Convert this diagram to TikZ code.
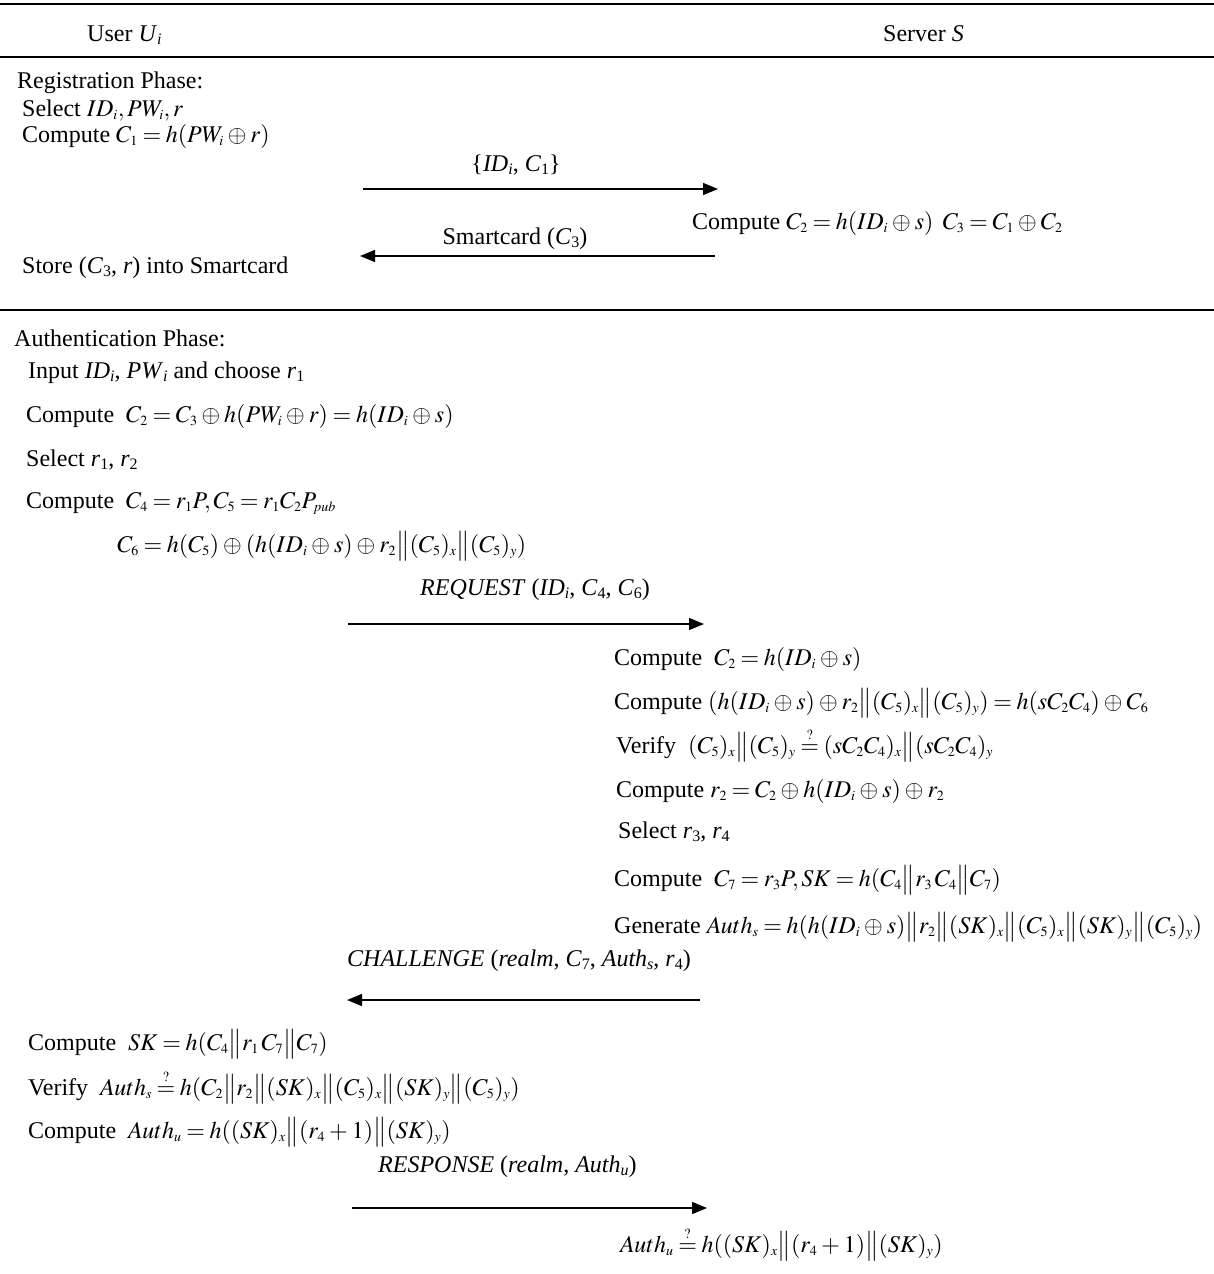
\documentclass[tikz,border=0pt]{standalone}
\usepackage{mathptmx}
\usepackage[no-math]{fontspec}
\setmainfont{Liberation Serif}
\usetikzlibrary{arrows.meta}
\DeclareMathSizes{24}{24}{14}{11}
\medmuskip=3mu plus 1mu minus 2mu
\thickmuskip=3.5mu plus 2mu
\newcommand{\bb}{\big\|}
\newcommand{\qeq}{\mathrel{\stackrel{?}{=}}}
\newcommand{\lsub}[1]{\raisebox{-3.5pt}{\fontsize{16}{16}\selectfont #1}}
\newcommand{\IDi}{\textit{ID}\lsub{\textit{i}}}
\newcommand{\PWi}{\textit{PW}\lsub{\textit{i}}}
\newcommand{\Cn}[1]{\textit{C}\lsub{#1}}
\newcommand{\rn}[1]{\textit{r}\lsub{#1}}
\begin{document}
\begin{tikzpicture}[x=1pt,y=-1pt,
  txt/.style={anchor=base west, inner sep=0pt, font=\fontsize{24}{28}\selectfont},
  ctxt/.style={txt, anchor=base},
  rule/.style={line width=2pt},
  msg/.style={line width=1.3pt, -{Triangle[length=15pt,width=12pt]}}]
\useasboundingbox (0,0) rectangle (1214,1274);
% rules
\draw[rule, line width=2.5pt] (0,4) -- (1214,4);
\draw[rule] (0,57) -- (1214,57);
\draw[rule] (0,310) -- (1214,310);
% header
\node[txt] (user) at (87,41) {User \textit{U}\lsub{\textit{i}}};
\node[txt] (server) at (883,41) {Server \textit{S}};
% registration
\node[txt] (reg) at (17,88) {Registration Phase:};
\node[txt] (r1) at (22,116) {Select $ID_i, PW_i, r$};
\node[txt] (r2) at (22,142) {Compute $C_1 = h(PW_i \oplus r)$};
\node[ctxt] (m1) at (516,171) {\{\IDi, \Cn{1}\}};
\coordinate (m1s) at (363,189); \coordinate (m1e) at (718,189);
\draw[msg] (m1s) -- (m1e);
\node[txt] (s1) at (692,229) {Compute $C_2 = h(ID_i \oplus s)\;\; C_3 = C_1 \oplus C_2$};
\node[ctxt] (m2) at (515,244) {Smartcard (\Cn{3})};
\coordinate (m2s) at (715,256); \coordinate (m2e) at (360,256);
\draw[msg] (m2s) -- (m2e);
\node[txt] (r3) at (22,273) {Store (\Cn{3}, \textit{r}) into Smartcard};
% authentication
\node[txt] (auth) at (14,346) {Authentication Phase:};
\node[txt] (u1) at (28,378) {Input \IDi, \PWi{} and choose \rn{1}};
\node[txt] (u2) at (26,422) {Compute\ \ $C_2 = C_3 \oplus h(PW_i \oplus r) = h(ID_i \oplus s)$};
\node[txt] (u3) at (26,466) {Select \rn{1}, \rn{2}};
\node[txt] (u4) at (26,508) {Compute\ \ $C_4 = r_1P, C_5 = r_1C_2P_{pub}$};
\node[txt] (u5) at (117,552) {$C_6 = h(C_5)\oplus(h(ID_i\oplus s)\oplus r_2 \bb (C_5)_x \bb (C_5)_y)$};
\node[txt] (m3) at (420,595) {\textit{REQUEST} (\IDi, \Cn{4}, \Cn{6})};
\coordinate (m3s) at (348,624); \coordinate (m3e) at (704,624);
\draw[msg] (m3s) -- (m3e);
\node[txt] (v1) at (614,665) {Compute\ \ $C_2 = h(ID_i \oplus s)$};
\node[txt] (v2) at (614,709) {Compute $(h(ID_i\oplus s)\oplus r_2\bb(C_5)_x\bb(C_5)_y) = h(sC_2C_4)\oplus C_6$};
\node[txt] (v3) at (616,753) {Verify\ \ $(C_5)_x\bb(C_5)_y \qeq (sC_2C_4)_x\bb(sC_2C_4)_y$};
\node[txt] (v4) at (616,797) {Compute $r_2 = C_2\oplus h(ID_i\oplus s)\oplus r_2$};
\node[txt] (v5) at (618,838) {Select \rn{3}, \rn{4}};
\node[txt] (v6) at (614,886) {Compute\ \ $C_7 = r_3P, SK = h(C_4\bb r_3\,C_4\bb C_7)$};
\node[txt] (v7) at (614,933) {Generate $Auth_s = h(h(ID_i\oplus s)\bb r_2\bb(SK)_x\bb(C_5)_x\bb(SK)_y\bb(C_5)_y)$};
\node[txt] (m4) at (347,966) {\textit{CHALLENGE} (\textit{realm}, \Cn{7}, \textit{Auth}\lsub{\textit{s}}, \rn{4})};
\coordinate (m4s) at (700,1000); \coordinate (m4e) at (347,1000);
\draw[msg] (m4s) -- (m4e);
\node[txt] (w1) at (28,1050) {Compute\ \ $SK = h(C_4\bb r_1\,C_7\bb C_7)$};
\node[txt] (w2) at (28,1095) {Verify\ \ $Auth_s \qeq h(C_2\bb r_2\bb(SK)_x\bb(C_5)_x\bb(SK)_y\bb(C_5)_y)$};
\node[txt] (w3) at (28,1138) {Compute\ \ $Auth_u = h((SK)_x\bb(r_4+1)\bb(SK)_y)$};
\node[txt] (m5) at (378,1172) {\textit{RESPONSE} (\textit{realm}, \textit{Auth}\lsub{\textit{u}})};
\coordinate (m5s) at (352,1208); \coordinate (m5e) at (707,1208);
\draw[msg] (m5s) -- (m5e);
\node[txt] (x1) at (620,1252) {$Auth_u \qeq h((SK)_x\bb(r_4+1)\bb(SK)_y)$};
\end{tikzpicture}
\end{document}
